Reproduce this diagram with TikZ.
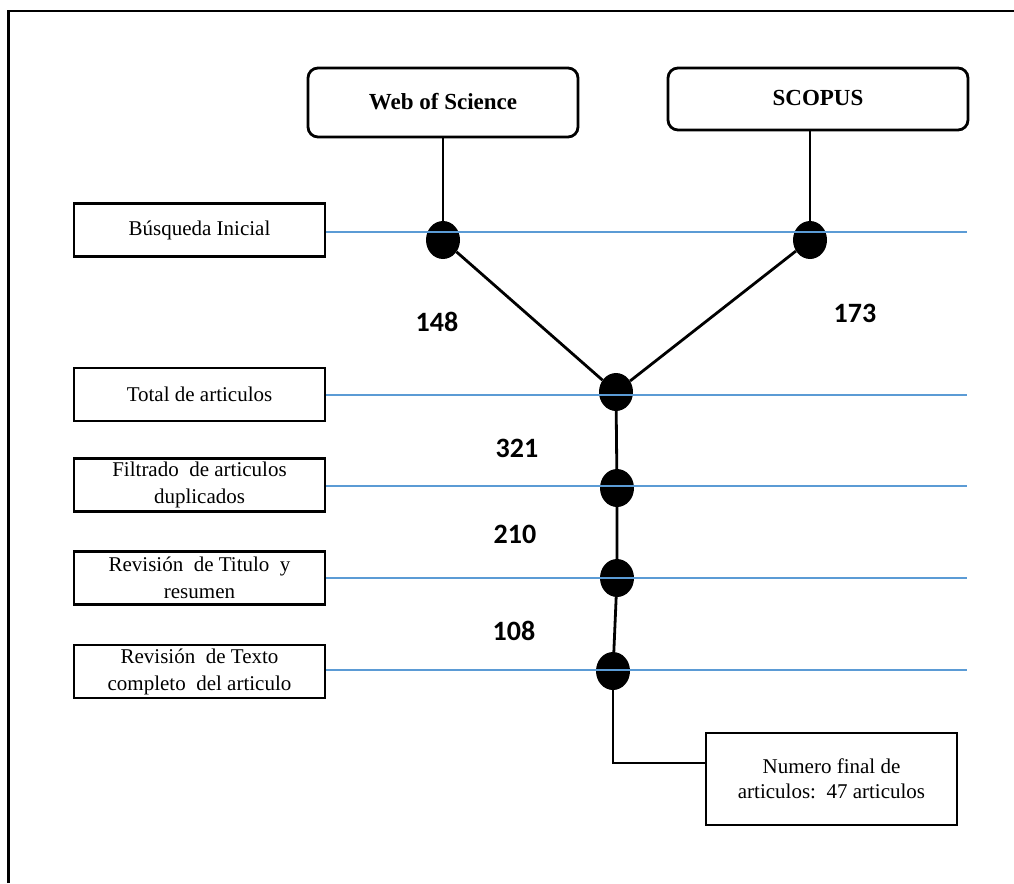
\documentclass[tikz,border=0pt]{standalone}
\usepackage{fontspec}
\setmainfont{Liberation Serif}
\newfontfamily\numfont{Carlito}
\usetikzlibrary{shapes.geometric}
\definecolor{lineblue}{RGB}{91,155,213}

\begin{document}
\begin{tikzpicture}[x=1pt,y=-1pt,
	dbbox/.style={draw,line width=2.8pt,rounded corners=10pt,inner sep=0pt,text depth=2pt,font=\fontsize{23}{27}\selectfont\bfseries},
	stagebox/.style={draw,line width=2.8pt,minimum width=251pt,minimum height=53pt,inner sep=0pt,align=center,font=\fontsize{21}{27}\selectfont},
	dot/.style={ellipse,fill=black,minimum width=34pt,minimum height=38pt,inner sep=0pt},
	conn/.style={line width=2.8pt},
	level/.style={draw=lineblue,line width=1.8pt},
	count/.style={font=\fontsize{28}{30}\numfont\bfseries}]
			\useasboundingbox (0,0) rectangle (1014,883);
			\draw[line width=2.8pt] (8.7,883) |- (1014,11);
			% bases de datos
			\node [dbbox,minimum width=270pt,minimum height=69pt] (wos) at (443,102.5) {Web of Science};
			\node [dbbox,minimum width=300pt,minimum height=62pt] (scopus) at (818,99) {SCOPUS};
			% etapas
			\node [stagebox] (s1) at (199.5,230) {Búsqueda Inicial};
			\node [stagebox] (s2) at (199.5,394.5) {Total de articulos};
			\node [stagebox] (s3) at (199.5,485) {Filtrado\ \ de articulos\\duplicados};
			\node [stagebox] (s4) at (199.5,578) {Revisión\ \ de Titulo\ \ y\\resumen};
			\node [stagebox] (s5) at (199.5,671.5) {Revisión\ \ de Texto\\completo\ \ del articulo};
			\node [stagebox,minimum height=92pt,font=\fontsize{21}{25}\selectfont] (final) at (831.5,779) {Numero final de\\articulos:\ \ 47 articulos};
			\node [dot] (d1) at (443,240) {};
			\node [dot] (d2) at (810,240) {};
			\node [dot] (d3) at (616,392) {};
			\node [dot] (d4) at (617,488) {};
			\node [dot] (d5) at (617,578) {};
			\node [dot] (d6) at (613,671) {};
			\coordinate (e1) at (967,232);
			\coordinate (e2) at (967,395);
			\coordinate (e3) at (967,486);
			\coordinate (e4) at (967,578);
			\coordinate (e5) at (967,670);
			\draw [conn] (wos.south) -- (d1);
			\draw [conn] (scopus.south -| d2) -- (d2);
			\draw [conn] (d1) -- (d3);
			\draw [conn] (d2) -- (d3);
			\draw [conn] (d3) -- (d4) -- (d5) -- (d6);
			\draw [conn] (d6) |- ([yshift=16pt]final.west);
			\draw [level] (s1.east |- e1) -- (e1);
			\draw [level] (s2.east |- e2) -- (e2);
			\draw [level] (s3.east |- e3) -- (e3);
			\draw [level] (s4.east |- e4) -- (e4);
			\draw [level] (s5.east |- e5) -- (e5);
			% cantidades
			\node [count] (c1) at (437,322) {148};
			\node [count] (c2) at (855,313) {173};
			\node [count] (c3) at (517,448) {321};
			\node [count] (c4) at (515,534) {210};
			\node [count] (c5) at (514,631) {108};
		\end{tikzpicture}
\end{document}
